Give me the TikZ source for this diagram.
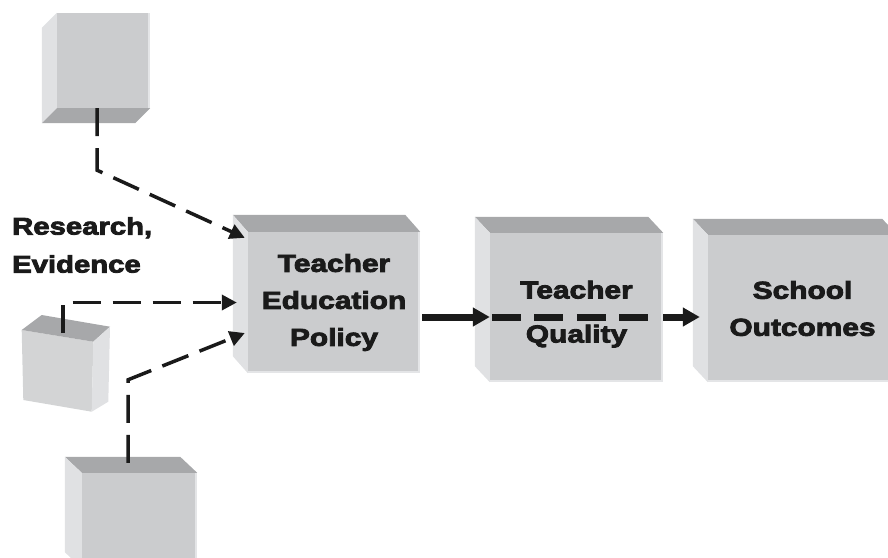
\documentclass[tikz,border=0pt]{standalone}
\usepackage{fontspec}
\newfontfamily\heavyfont{Liberation Sans}[FakeStretch=1.22,FakeBold=3.5]
\usetikzlibrary{arrows.meta}
\definecolor{facegray}{HTML}{CBCCCE}
\definecolor{topgray}{HTML}{A7A8AA}
\definecolor{sidegray}{HTML}{E0E1E3}
\definecolor{edgegray}{HTML}{E4E5E7}
\definecolor{inkblack}{HTML}{1A1A1A}

\begin{document}
\begin{tikzpicture}[x=1pt,y=-1pt,
	face/.style={fill=facegray,inner sep=0pt,align=center,text=inkblack,
		font=\heavyfont\bfseries\fontsize{24.5}{37}\selectfont},
	hilite/.style={draw=edgegray,line width=2.5pt},
	link/.style={draw=inkblack,line width=3.5pt,dash pattern=on 28pt off 12pt,
		-{Triangle[length=15pt,width=15pt]}},
	mainline/.style={draw=inkblack,line width=7pt},
	maintip/.style={-{Triangle[length=17pt,width=18pt]}}]
	\useasboundingbox (0,0) rectangle (888,557);
	\clip (0,0) rectangle (888,557);

	\node[face,minimum width=93pt,minimum height=95pt] (src1) at (103.5,60.5) {};
	\fill[sidegray] (src1.north west) -- ++(-15,15) -- ([shift={(-15,15)}]src1.south west) -- (src1.south west) -- cycle;
	\fill[topgray] (src1.south west) -- ++(-15,15) -- ([shift={(-15,15)}]src1.south east) -- (src1.south east) -- cycle;
	\draw[hilite] ([xshift=-1pt]src1.north east) -- ([xshift=-1pt]src1.south east);

	\fill[facegray!85!white] (21.7,330) -- (93.3,341.7) -- (91.7,411.7) -- (23.3,400) -- cycle;
	\fill[topgray] (21.7,330) -- (41.7,315) -- (110,326.7) -- (93.3,341.7) -- cycle;
	\fill[sidegray] (93.3,341.7) -- (110,326.7) -- (108.3,401.7) -- (91.7,411.7) -- cycle;
	\coordinate (src2) at (63,333);

	\node[face,minimum width=115pt,minimum height=95pt] (src3) at (139.5,520.5) {};
	\fill[topgray] (src3.north west) -- ++(-17,-16) -- ([shift={(-17,-16)}]src3.north east) -- (src3.north east) -- cycle;
	\fill[sidegray] (src3.north west) -- ++(-17,-16) -- ([shift={(-17,-16)}]src3.south west) -- (src3.south west) -- cycle;
	\draw[hilite] ([xshift=-1pt]src3.north east) -- ([xshift=-1pt]src3.south east);

	\node[face,minimum width=172pt,minimum height=141pt] (tep) at (334,302.5) {Teacher\\Education\\Policy};
	\fill[topgray] (tep.north west) -- ++(-15,-17) -- ([shift={(-15,-17)}]tep.north east) -- (tep.north east) -- cycle;
	\fill[sidegray] (tep.north west) -- ++(-15,-17) -- ([shift={(-15,-17)}]tep.south west) -- (tep.south west) -- cycle;
	\draw[hilite] ([xshift=-1pt]tep.north east) -- ([shift={(-1,-1)}]tep.south east) -- ([yshift=1pt]tep.south west);

	\node[face,minimum width=173pt,minimum height=149pt] (tq) at (576.5,307.5) {\rule{0pt}{31pt}Teacher\\[7pt]Quality};
	\fill[topgray] (tq.north west) -- ++(-15,-16) -- ([shift={(-15,-16)}]tq.north east) -- (tq.north east) -- cycle;
	\fill[sidegray] (tq.north west) -- ++(-15,-16) -- ([shift={(-15,-16)}]tq.south west) -- (tq.south west) -- cycle;
	\draw[hilite] ([xshift=-1pt]tq.north east) -- ([shift={(-1,-1)}]tq.south east) -- ([yshift=1pt]tq.south west);

	\node[face,minimum width=189pt,minimum height=147pt] (so) at (802.5,308.5) {School\\Outcomes};
	\fill[topgray] (so.north west) -- ++(-15,-16) -- ([shift={(-15,-16)}]so.north east) -- (so.north east) -- cycle;
	\fill[sidegray] (so.north west) -- ++(-15,-16) -- ([shift={(-15,-16)}]so.south west) -- (so.south west) -- cycle;
	\draw[hilite] ([shift={(-1,-1)}]so.south east) -- ([yshift=1pt]so.south west);

	\node[anchor=west,inner sep=0pt,align=left,text=inkblack,
		font=\heavyfont\bfseries\fontsize{24}{38}\selectfont] (evid) at (12,245) {Research,\\Evidence};

	\draw[link] ([xshift=-6.5pt]src1.south) -- ++(0,62) -- ([shift={(-3,6)}]tep.north west);
	\draw[link] (src2) |- ([xshift=-11pt]tep.west);
	\draw[link] ([shift={(-11.5,-10)}]src3.north) -- ++(0,-83) -- ([shift={(-3,30.5)}]tep.west);

	\coordinate (m) at ([shift={(0,14.5)}]tep.east);
	\draw[mainline,maintip] ([xshift=2pt]m) -- (m -| tq.west);
	\draw[mainline,dash pattern=on 29pt off 13.5pt] ([xshift=2pt]m -| tq.west) -- ([xshift=-13pt]m -| tq.east);
	\draw[mainline,maintip] (m -| tq.east) -- ([xshift=-8pt]m -| so.west);
\end{tikzpicture}
\end{document}
